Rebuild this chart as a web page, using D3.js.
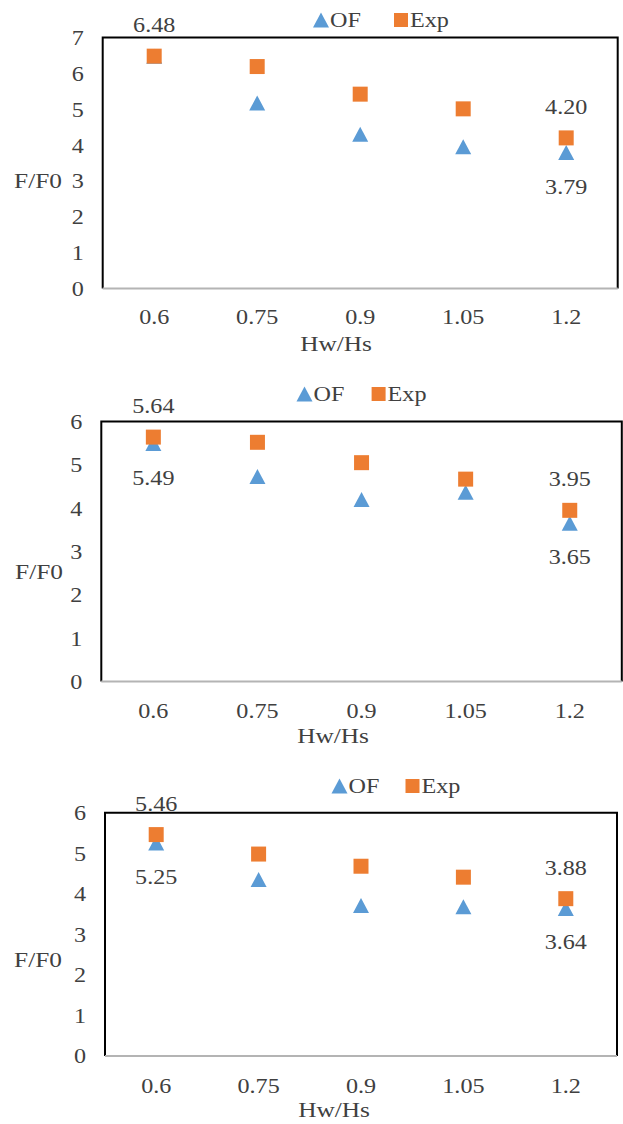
<!DOCTYPE html>
<html>
<head>
<meta charset="utf-8">
<script src="https://cdn.jsdelivr.net/npm/d3@7"></script>
<style>
  html, body { margin: 0; padding: 0; background: #fff; }
  svg { display: block; }
  text { font-family: "Liberation Serif", "Times New Roman", serif; fill: #404040; }
</style>
</head>
<body>
<svg id="chart" width="623" height="1124"></svg>
<script>
// ---------- data ----------
const categories = ["0.6", "0.75", "0.9", "1.05", "1.2"];
const seriesNames = ["OF", "Exp"];
const xTitle = "Hw/Hs";
const yTitle = "F/F0";

const of1  = [6.48, 5.17, 4.30, 3.95, 3.79];
const exp1 = [6.48, 6.19, 5.42, 5.01, 4.20];
const of2  = [5.49, 4.73, 4.20, 4.37, 3.65];
const exp2 = [5.64, 5.52, 5.05, 4.67, 3.95];
const of3  = [5.25, 4.35, 3.71, 3.68, 3.64];
const exp3 = [5.46, 4.98, 4.68, 4.41, 3.88];

const yTicks1 = [0, 1, 2, 3, 4, 5, 6, 7];
const yTicks2 = [0, 1, 2, 3, 4, 5, 6];
const yTicks3 = [0, 1, 2, 3, 4, 5, 6];

// which points carry value labels: [series, index]
const labels1 = [["Exp", 0], ["Exp", 4], ["OF", 4]];
const labels2 = [["Exp", 0], ["OF", 0], ["Exp", 4], ["OF", 4]];
const labels3 = [["Exp", 0], ["OF", 0], ["Exp", 4], ["OF", 4]];

// ---------- layout ----------
const colors = { OF: "#5B9BD5", Exp: "#ED7D31" };
const FS = 21, SX = 1.15;

const panels = [
  { of: of1, exp: exp1, ticks: yTicks1, labels: labels1,
    left: 102.7, right: 617.7, top: 37.5, bottom: 288.5,
    legendY: 20, legendTri: 321, legendSq: 401,
    yTitleX: 38, yTitleY: 181, xTitleX: 336, xLabDy: 29, xTitleDy: 55 },
  { of: of2, exp: exp2, ticks: yTicks2, labels: labels2,
    left: 101.3, right: 621.8, top: 421.5, bottom: 681.5,
    legendY: 394, legendTri: 304.5, legendSq: 378.6,
    yTitleX: 39, yTitleY: 572, xTitleX: 333, xLabDy: 30, xTitleDy: 54 },
  { of: of3, exp: exp3, ticks: yTicks3, labels: labels3,
    left: 105, right: 617, top: 812.7, bottom: 1056,
    legendY: 786, legendTri: 339.5, legendSq: 412.5,
    yTitleX: 38, yTitleY: 960, xTitleX: 334, xLabDy: 30, xTitleDy: 54 }
];

const svg = d3.select("#chart");

const triW = 16, triH = 15, sq = 15;
const triangleCentered = {
  draw(ctx, size) {
    ctx.moveTo(0, -triH / 2);
    ctx.lineTo(triW / 2, triH / 2);
    ctx.lineTo(-triW / 2, triH / 2);
    ctx.closePath();
  }
};
const triPath = d3.symbol(triangleCentered, 1)();
const sqPath = d3.symbol(d3.symbolSquare, sq * sq)();

function stretchedText(g, x, y, str, anchor, size) {
  return g.append("text")
    .attr("transform", `translate(${x},${y}) scale(${SX},1)`)
    .attr("text-anchor", anchor || "middle")
    .attr("dominant-baseline", "central")
    .style("font-size", (size || FS) + "px")
    .text(str);
}

panels.forEach(p => {
  const g = svg.append("g");
  const x = d3.scaleBand().domain(categories).range([p.left, p.right]);
  const y = d3.scaleLinear().domain([0, d3.max(p.ticks)]).range([p.bottom, p.top]);
  const cx = c => x(c) + x.bandwidth() / 2;

  // frame: left, top, right in black
  g.append("path")
    .attr("d", `M${p.left},${p.bottom} V${p.top} H${p.right} V${p.bottom}`)
    .attr("fill", "none").attr("stroke", "#000").attr("stroke-width", 2);
  // x axis line (gray)
  g.append("line")
    .attr("x1", p.left).attr("x2", p.right)
    .attr("y1", p.bottom).attr("y2", p.bottom)
    .attr("stroke", "#b4b4b4").attr("stroke-width", 2.2);

  // y axis tick labels
  const yAxis = g.append("g")
    .attr("transform", `translate(${p.left - 19},0)`)
    .call(d3.axisLeft(y).tickValues(p.ticks).tickSize(0).tickPadding(0).tickFormat(d3.format("d")));
  yAxis.select(".domain").remove();
  yAxis.selectAll("text")
    .attr("x", 0).attr("dy", null)
    .attr("dominant-baseline", "central")
    .attr("transform", `scale(${SX},1)`)
    .style("font-size", FS + "px")
    .style("font-family", null).attr("font-family", null).attr("font-size", null)
    .attr("fill", "#404040");

  // x axis tick labels
  const xAxis = g.append("g")
    .attr("transform", `translate(0,${p.bottom + p.xLabDy})`)
    .call(d3.axisBottom(x).tickSize(0).tickPadding(0));
  xAxis.select(".domain").remove();
  xAxis.selectAll("text")
    .attr("y", 0).attr("dy", null)
    .attr("dominant-baseline", "central")
    .attr("transform", `scale(${SX},1)`)
    .style("font-size", FS + "px")
    .attr("font-family", null).attr("font-size", null)
    .attr("fill", "#404040");

  // axis titles
  stretchedText(g, p.xTitleX, p.bottom + p.xTitleDy, xTitle, "middle", 22);
  stretchedText(g, p.yTitleX, p.yTitleY, yTitle, "middle", 22);

  // OF markers (drawn first, under)
  g.append("g").selectAll("path")
    .data(categories.map((c, i) => ({ c, v: p.of[i] })))
    .join("path")
    .attr("d", triPath)
    .attr("transform", d => `translate(${cx(d.c)},${y(d.v)})`)
    .attr("fill", colors.OF);
  // Exp markers
  g.append("g").selectAll("path")
    .data(categories.map((c, i) => ({ c, v: p.exp[i] })))
    .join("path")
    .attr("d", sqPath)
    .attr("transform", d => `translate(${cx(d.c)},${y(d.v)})`)
    .attr("fill", colors.Exp);

  // data labels
  p.labels.forEach(([s, i]) => {
    const v = s === "OF" ? p.of[i] : p.exp[i];
    const dy = s === "OF" ? 34 : -31;
    stretchedText(g, cx(categories[i]), y(v) + dy, v.toFixed(2), "middle", FS);
  });

  // legend
  g.append("path").attr("d", triPath)
    .attr("transform", `translate(${p.legendTri},${p.legendY})`).attr("fill", colors.OF);
  stretchedText(g, p.legendTri + 9, p.legendY, seriesNames[0], "start", FS);
  g.append("path").attr("d", d3.symbol(d3.symbolSquare, 14 * 14)())
    .attr("transform", `translate(${p.legendSq},${p.legendY})`).attr("fill", colors.Exp);
  stretchedText(g, p.legendSq + 9, p.legendY, seriesNames[1], "start", FS);
});
</script>
</body>
</html>
